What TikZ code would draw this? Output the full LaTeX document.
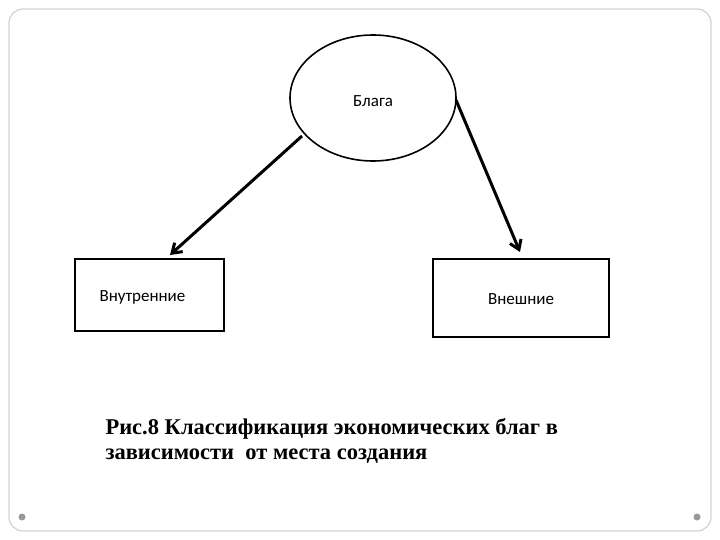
\documentclass[tikz,border=0pt]{standalone}
\usepackage{fontspec}
\setmainfont{Carlito}
\newfontfamily\capfont{Liberation Serif}
\usetikzlibrary{arrows.meta,shapes.geometric}
\begin{document}
\begin{tikzpicture}[x=1pt,y=-1pt,
  arr/.style={draw,line width=3pt,-{Straight Barb[length=9pt,width=12pt]}},
  lbl/.style={font=\fontsize{17}{19}\selectfont}]
\useasboundingbox (0,0) rectangle (720,540);
\draw[gray!35,line width=1.2pt,rounded corners=14pt] (9,9) rectangle (711,531);
\fill[gray!80] (22,517) circle (3.5);
\fill[gray!80] (697,517) circle (3.5);
\node[draw,line width=1.6pt,ellipse,minimum width=166pt,minimum height=126pt,inner sep=0pt] (e) at (373,98) {};
\node[lbl] (et) at (373,101) {Блага};
\node[draw,line width=1.6pt,minimum width=149pt,minimum height=72pt,inner sep=0pt] (l) at (149.5,295) {};
\node[lbl,anchor=west] (lt) at (96,297) {Внутренние};
\node[draw,line width=1.6pt,minimum width=176pt,minimum height=78pt,inner sep=0pt] (r) at (521,298) {};
\node[lbl] (rt) at (521,299) {Внешние};
\coordinate (a1) at (302,136);
\coordinate (a2) at (170,255);
\coordinate (b1) at (456,100);
\coordinate (b2) at (520,252);
\draw[arr] (a1) -- (a2);
\draw[arr] (b1) -- (b2);
\node[anchor=north west,align=left,font=\capfont\bfseries\fontsize{22.5}{25}\selectfont] (cap) at (102,415)
 {Рис.8 Классификация экономических благ в\\зависимости\ \ от места создания};
\end{tikzpicture}
\end{document}
